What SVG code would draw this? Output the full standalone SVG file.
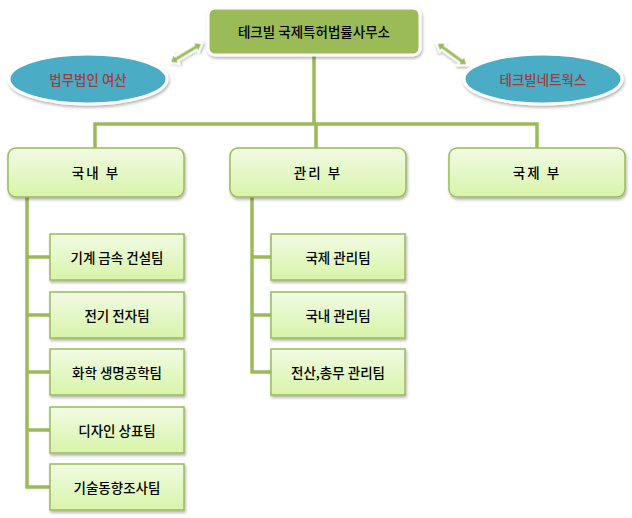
<svg xmlns="http://www.w3.org/2000/svg" width="632" height="518" viewBox="0 0 632 518">
<defs>
<linearGradient id="lg" x1="0" y1="0" x2="0" y2="1">
<stop offset="0" stop-color="#F1FBE3"/>
<stop offset="1" stop-color="#D8F4A9"/>
</linearGradient>
<filter id="sh" x="-10%" y="-20%" width="125%" height="150%">
<feDropShadow dx="1" dy="2" stdDeviation="1.5" flood-color="#000" flood-opacity="0.3"/>
</filter>
<filter id="sa" x="-30%" y="-30%" width="160%" height="160%">
<feDropShadow dx="1" dy="1.5" stdDeviation="1.2" flood-color="#000" flood-opacity="0.3"/>
</filter>
<style>
.t{font-family:"Noto Sans CJK KR","Noto Sans",sans-serif;font-size:13.5px;font-weight:500;fill:#000;text-anchor:middle;dominant-baseline:central}
.r{fill:#A23C3A}
.box{fill:url(#lg);stroke:#9BBB59;stroke-width:1.5;filter:url(#sh)}
.ell{fill:#4BACC6;stroke:#fff;stroke-width:3;filter:url(#sh)}
.ln{fill:none;stroke:#9BBB59;stroke-width:3.5}
.dbl{fill:#9BBB59;stroke:#fff;stroke-width:2;stroke-linejoin:round;filter:url(#sa)}
</style>
</defs>
<g id="connectors">
<path class="ln" d="M314,55 V124 M95,148 V124 H537 V148 M316,124 V148"/>
<path class="ln" d="M27,197 V487 H50 M27,257 H50 M27,315 H50 M27,372 H50 M27,430 H50"/>
<path class="ln" d="M252,197 V372 H271 M252,257 H271 M252,315 H271"/>
<path id="arrow-left" class="dbl" transform="translate(186,53) rotate(-31)" d="M-19,0 L-11,-6 L-11,-2.5 L11,-2.5 L11,-6 L19,0 L11,6 L11,2.5 L-11,2.5 L-11,6 Z"/>
<path id="arrow-right" class="dbl" transform="translate(452,54) rotate(36)" d="M-19,0 L-11,-6 L-11,-2.5 L11,-2.5 L11,-6 L19,0 L11,6 L11,2.5 L-11,2.5 L-11,6 Z"/>
</g>
<g id="top">
<rect x="208" y="8" width="212" height="47" rx="7" fill="#9BBB59" stroke="#fff" stroke-width="3" filter="url(#sh)"/>
<text class="t" x="314" y="31">테크빌 국제특허법률사무소</text>
</g>
<g id="yeosan">
<ellipse class="ell" cx="88" cy="79" rx="79" ry="25"/>
<text class="t r" x="88" y="79">법무법인 여산</text>
</g>
<g id="network">
<ellipse class="ell" cx="543" cy="79" rx="79" ry="25"/>
<text class="t r" x="543" y="79">테크빌네트웍스</text>
</g>
<g id="domestic">
<rect class="box" x="8" y="148" width="176" height="49" rx="8"/>
<text class="t" x="96" y="172" letter-spacing="2">국내 부</text>
</g>
<g id="admin">
<rect class="box" x="230" y="148" width="176" height="49" rx="8"/>
<text class="t" x="318" y="172" letter-spacing="2">관리 부</text>
</g>
<g id="intl">
<rect class="box" x="449" y="148" width="176" height="49" rx="8"/>
<text class="t" x="537" y="172" letter-spacing="2">국제 부</text>
</g>
<g id="d1"><rect class="box" x="50" y="234" width="134" height="46"/><text class="t" x="117" y="257">기계 금속 건설팀</text></g>
<g id="d2"><rect class="box" x="50" y="292" width="134" height="46"/><text class="t" x="117" y="315">전기 전자팀</text></g>
<g id="d3"><rect class="box" x="50" y="349" width="134" height="46"/><text class="t" x="117" y="372">화학 생명공학팀</text></g>
<g id="d4"><rect class="box" x="50" y="407" width="134" height="46"/><text class="t" x="117" y="430">디자인 상표팀</text></g>
<g id="d5"><rect class="box" x="50" y="464" width="134" height="46"/><text class="t" x="117" y="487">기술동향조사팀</text></g>
<g id="a1"><rect class="box" x="271" y="234" width="134" height="46"/><text class="t" x="338" y="257">국제 관리팀</text></g>
<g id="a2"><rect class="box" x="271" y="292" width="134" height="46"/><text class="t" x="338" y="315">국내 관리팀</text></g>
<g id="a3"><rect class="box" x="271" y="349" width="134" height="46"/><text class="t" x="338" y="372">전산,총무 관리팀</text></g>
</svg>
